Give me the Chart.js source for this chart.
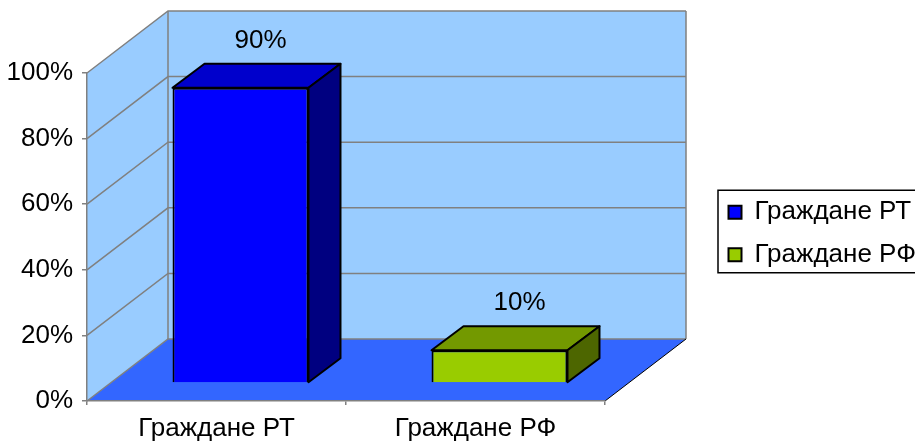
<!DOCTYPE html>
<html><head><meta charset="utf-8">
<script src="https://cdn.jsdelivr.net/npm/chart.js@4.4.1/dist/chart.umd.min.js"></script>
<style>html,body{margin:0;padding:0;background:#fff;overflow:hidden}</style>
</head><body>
<canvas id="c" width="915" height="441"></canvas>
<script>
// ---- data ----
const categories = ['Граждане РТ', 'Граждане РФ'];
const seriesNames = ['Граждане РТ', 'Граждане РФ'];
const seriesRT = [0.9, null];
const seriesRF = [null, 0.1];
const yTickValues = [0, 0.2, 0.4, 0.6, 0.8, 1.0];

// ---- style ----
const FONT = "'Liberation Sans', Arial, sans-serif";
const FS = 26;
const GRAY = '#808080';
const WALL = '#99CCFF';
const FLOOR = '#3366FF';
const DEPTH = {dx: 81, dy: -62};      // full depth of the 3D box
const BAR_FRONT = {dx: 24, dy: -18};  // bar front face depth
const BAR_BACK = {dx: 56, dy: -42};   // bar back face depth
const fmt = v => Math.round(v * 100) + '%';

function poly(ctx, pts) {
  ctx.beginPath();
  ctx.moveTo(pts[0][0], pts[0][1]);
  for (let i = 1; i < pts.length; i++) ctx.lineTo(pts[i][0], pts[i][1]);
  ctx.closePath();
}

const threeD = {
  id: 'threeD',
  beforeDraw(chart) {
    const {ctx, chartArea: a, scales: {y}} = chart;
    const dx = DEPTH.dx, dy = DEPTH.dy;
    ctx.save();
    ctx.fillStyle = WALL;
    ctx.fillRect(a.left + dx, a.top + dy, a.right - a.left, a.bottom - a.top);
    poly(ctx, [[a.left, a.top], [a.left + dx, a.top + dy], [a.left + dx, a.bottom + dy], [a.left, a.bottom]]);
    ctx.fill();
    ctx.fillStyle = FLOOR;
    poly(ctx, [[a.left, a.bottom], [a.right, a.bottom], [a.right + dx, a.bottom + dy], [a.left + dx, a.bottom + dy]]);
    ctx.fill();
    ctx.strokeStyle = GRAY;
    ctx.lineWidth = 1.5;
    y.ticks.forEach(t => {
      const py = y.getPixelForValue(t.value);
      ctx.beginPath();
      ctx.moveTo(a.left, py);
      ctx.lineTo(a.left + dx, py + dy);
      ctx.lineTo(a.right + dx, py + dy);
      ctx.stroke();
    });
    ctx.beginPath();
    ctx.moveTo(a.left + dx, a.top + dy);
    ctx.lineTo(a.left + dx, a.bottom + dy);
    ctx.moveTo(a.right + dx, a.top + dy);
    ctx.lineTo(a.right + dx, a.bottom + dy);
    ctx.stroke();
    ctx.strokeStyle = '#000';
    ctx.lineWidth = 1;
    ctx.beginPath();
    ctx.moveTo(a.right, a.bottom);
    ctx.lineTo(a.right + dx, a.bottom + dy);
    ctx.stroke();
    ctx.restore();
  },
  beforeDatasetsDraw(chart) {
    chart.ctx.save();
    chart.ctx.translate(BAR_FRONT.dx, BAR_FRONT.dy);
  },
  afterDatasetsDraw(chart) {
    const ctx = chart.ctx;
    ctx.restore();
    const fx = BAR_FRONT.dx, fy = BAR_FRONT.dy, bx = BAR_BACK.dx, by = BAR_BACK.dy;
    chart.data.datasets.forEach((ds, i) => {
      const meta = chart.getDatasetMeta(i);
      meta.data.forEach((bar, j) => {
        const v = ds.data[j];
        if (v == null) return;
        const {x, y, base, width} = bar.getProps(['x', 'y', 'base', 'width'], true);
        const L = x - width / 2, R = x + width / 2, T = y, B = base;
        ctx.save();
        ctx.strokeStyle = '#000';
        ctx.lineWidth = 2;
        ctx.lineJoin = 'round';
        ctx.fillStyle = ds.topColor;
        poly(ctx, [[L + fx, T + fy], [R + fx, T + fy], [R + bx, T + by], [L + bx, T + by]]);
        ctx.fill(); ctx.stroke();
        ctx.fillStyle = ds.sideColor;
        poly(ctx, [[R + fx, T + fy], [R + bx, T + by], [R + bx, B + by], [R + fx, B + fy]]);
        ctx.fill(); ctx.stroke();
        // data label
        ctx.fillStyle = '#000';
        ctx.font = FS + 'px ' + FONT;
        ctx.textAlign = 'center';
        ctx.textBaseline = 'middle';
        ctx.fillText(fmt(v), x + 44, y - 65);
        ctx.restore();
      });
    });
  },
  afterDraw(chart) {
    const hb = chart.legend && chart.legend.legendHitBoxes;
    if (!hb || !hb.length) return;
    const ctx = chart.ctx;
    const first = hb[0], last = hb[hb.length - 1];
    ctx.save();
    ctx.strokeStyle = '#000';
    ctx.lineWidth = 1.5;
    const l = first.left - 10.5, t = first.top - 9, b = last.top + last.height + 5;
    ctx.strokeRect(l, t, chart.width + 10 - l, b - t);
    ctx.restore();
  }
};

Chart.defaults.font.family = FONT;
Chart.defaults.font.size = FS;
Chart.defaults.color = '#000';

new Chart(document.getElementById('c'), {
  type: 'bar',
  data: {
    labels: categories,
    datasets: [
      {label: seriesNames[0], data: seriesRT, backgroundColor: '#0000FF', topColor: '#0000CC', sideColor: '#000080',
       borderColor: '#000', borderWidth: 2, xAxisID: 'x', yAxisID: 'y'},
      {label: seriesNames[1], data: seriesRF, backgroundColor: '#99CC00', topColor: '#739900', sideColor: '#4D6600',
       borderColor: '#000', borderWidth: 2, xAxisID: 'x', yAxisID: 'y'}
    ]
  },
  options: {
    responsive: false,
    devicePixelRatio: 1,
    animation: false,
    layout: {padding: {top: 26, left: 0, right: 0, bottom: 0}},
    datasets: {bar: {grouped: false, categoryPercentage: 1, barPercentage: 0.525, clip: false}},
    scales: {
      x: {
        type: 'category', position: 'bottom',
        grid: {display: true, drawOnChartArea: false, tickLength: 4, color: GRAY, lineWidth: 1.5, offset: true},
        border: {display: true, color: GRAY, width: 1.5},
        ticks: {padding: 8, font: {size: FS}, color: '#000', maxRotation: 0},
        afterFit: s => { s.height = 40; }
      },
      y: {
        type: 'linear', position: 'left', min: 0, max: 1,
        afterBuildTicks: s => { s.ticks = yTickValues.map(v => ({value: v})); },
        grid: {display: true, drawOnChartArea: false, tickLength: 5, color: GRAY, lineWidth: 1.5},
        border: {display: true, color: GRAY, width: 1.5},
        ticks: {padding: 9, font: {size: FS}, color: '#000', callback: v => fmt(v)},
        afterFit: s => { s.width = 87; }
      },
      xTop: {
        type: 'category', axis: 'x', position: 'top', display: true,
        grid: {display: false}, border: {display: false}, ticks: {display: false},
        afterFit: s => { s.height = 47; }
      },
      yRight: {
        type: 'linear', axis: 'y', position: 'right', display: true,
        grid: {display: false}, border: {display: false}, ticks: {display: false},
        afterFit: s => { s.width = 107; }
      }
    },
    plugins: {
      legend: {
        position: 'right',
        maxWidth: 203,
        labels: {boxWidth: 13, boxHeight: 13, padding: 16.5, color: '#000', font: {size: FS}}
      },
      tooltip: {enabled: false}
    }
  },
  plugins: [threeD]
});
</script>
</body></html>
